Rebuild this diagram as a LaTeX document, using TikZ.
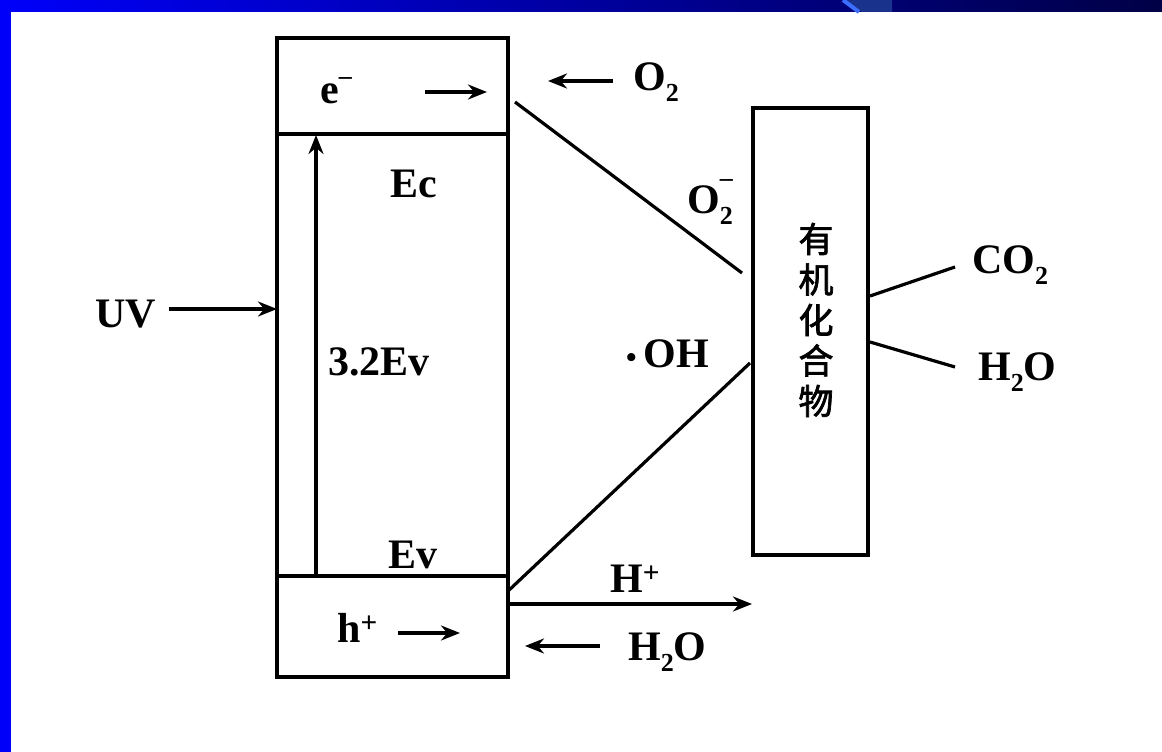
\documentclass[tikz,border=0pt]{standalone}
\usepackage{fontspec}
\setmainfont{Liberation Serif}
\newfontfamily\cjk[FakeBold=2]{Noto Sans CJK SC}
\usetikzlibrary{arrows.meta}
\definecolor{barblue}{RGB}{0,0,250}
\definecolor{bardark}{RGB}{0,0,70}
\definecolor{stripeA}{RGB}{60,110,255}
\definecolor{stripeB}{RGB}{25,50,140}
\newcommand{\subtwo}{\raisebox{-0.28em}{\fontsize{26}{26}\selectfont 2}}
\newcommand{\supmin}{\raisebox{0.64em}{\fontsize{26}{26}\selectfont –}}
\newcommand{\supmine}{\raisebox{0.45em}{\fontsize{26}{26}\selectfont –}}
\begin{document}
\begin{tikzpicture}[x=1pt,y=-1pt,
  lbl/.style={inner sep=0pt, anchor=base west, font=\fontsize{42}{46}\selectfont\bfseries},
  frame/.style={draw, line width=3.4pt, inner sep=0pt},
  conn/.style={line width=3.2pt},
  arr/.style={line width=3.4pt, -{Stealth[length=19pt,width=15pt]}}]
\useasboundingbox (0,0) rectangle (1162,752);
\fill[white] (0,0) rectangle (1162,752);
% slide decoration
\shade[left color=barblue, right color=bardark] (0,0) rectangle (1162,12);
\fill[stripeB] (846,0) -- (892,0) -- (892,12) -- (862,12) -- cycle;
\draw[stripeA, line width=4pt] (843,0) -- (859,12);
\fill[barblue] (0,0) rectangle (11,752);

% band box
\node[frame, minimum width=231pt, minimum height=639pt] (band) at (392.5,357.5) {};
\coordinate (cbrow) at (277,134);
\coordinate (vbrow) at (277,576);
\draw[conn] (band.west |- cbrow) -- (band.east |- cbrow);
\draw[conn] (band.west |- vbrow) -- (band.east |- vbrow);

% organic compound box
\node[frame, minimum width=115pt, minimum height=447pt] (org) at (810.5,331.5) {};
\node[inner sep=0pt, align=center, font=\cjk\fontsize{35}{40.5}\selectfont] (orgtxt) at (816,320) {有\\机\\化\\合\\物};

% labels
\node[lbl] (e) at (320,103) {e\supmine};
\node[lbl] (otwo) at (633,90) {O\subtwo};
\node[lbl] (ec) at (390,197) {Ec};
\node[lbl] (otwom) at (687,213) {O\rlap{\supmin}\subtwo};
\node[lbl] (uv) at (95,327) {UV};
\node[lbl] (gap) at (328,375) {3.2Ev};
\node[lbl] (oh) at (626,367) {{\fontsize{30}{30}\selectfont •}\,OH};
\node[lbl] (co2) at (972,273) {CO\subtwo};
\node[lbl] (h2oa) at (978,380) {H\subtwo O};
\node[lbl] (ev) at (388,568) {Ev};
\node[lbl] (hp) at (610,592) {H\textsuperscript{+}};
\node[lbl] (h) at (337,642) {h\textsuperscript{+}};
\node[lbl] (h2ob) at (628,660) {H\subtwo O};

% connector end points
\coordinate (ea) at (425,92);
\coordinate (eb) at (487,92);
\coordinate (oa) at (613,81);
\coordinate (ob) at (548,81);
\coordinate (l1a) at (515,102);
\coordinate (l1b) at (742,273);
\coordinate (l2a) at (507,592);
\coordinate (l2b) at (750,363);
\coordinate (hpa) at (508,604);
\coordinate (hpb) at (752,604);
\coordinate (co2a) at (870,296);
\coordinate (co2b) at (955,267);
\coordinate (h2oa1) at (870,342);
\coordinate (h2oa2) at (955,367);
\coordinate (uvb) at (277,309);
\coordinate (va) at (316,576);
\coordinate (vb) at (316,135);
\coordinate (ha) at (398,633);
\coordinate (hb) at (460,633);
\coordinate (wa) at (600,646);
\coordinate (wb) at (525,646);

% connectors
\draw[arr] (ea) -- (eb);
\draw[arr] (oa) -- (ob);
\draw[conn] (l1a) -- (l1b);
\draw[conn] (l2a) -- (l2b);
\draw[arr] (hpa) -- (hpb);
\draw[conn] (co2a) -- (co2b);
\draw[conn] (h2oa1) -- (h2oa2);
\draw[arr] (uv.east |- uvb) ++(13,0) -- (uvb);
\draw[arr] (va) -- (vb);
\draw[arr] (ha) -- (hb);
\draw[arr] (wa) -- (wb);
\end{tikzpicture}
\end{document}
